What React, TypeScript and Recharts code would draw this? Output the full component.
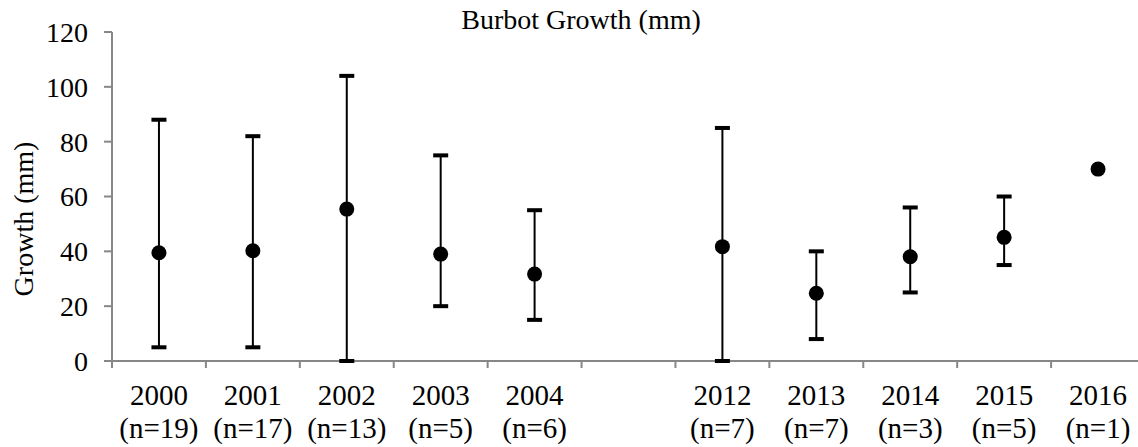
import React from 'react';
import { ComposedChart, Line, XAxis, YAxis, ErrorBar } from 'recharts';

const years = ['2000', '2001', '2002', '2003', '2004', '', '2012', '2013', '2014', '2015', '2016'];
const nCounts = ['19', '17', '13', '5', '6', '', '7', '7', '3', '5', '1'];
const means: (number | null)[] = [39.5, 40.2, 55.4, 39.0, 31.7, null, 41.7, 24.7, 38.0, 45.1, 70.0];
const highs: (number | null)[] = [88, 82, 104, 75, 55, null, 85, 40, 56, 60, null];
const lows: (number | null)[] = [5, 5, 0, 20, 15, null, 0, 8, 25, 35, null];
const yTicks = [0, 20, 40, 60, 80, 100, 120];
const boundaryTicks = [0, 1, 2, 3, 4, 5, 6, 7, 8, 9, 10];

const data = years.map((year, i) => {
  const m = means[i];
  const h = highs[i];
  const l = lows[i];
  return {
    key: year === '' ? 'gap' : year,
    year,
    n: nCounts[i],
    idx: i,
    mean: m,
    high: h,
    low: l,
    err: m != null && h != null && l != null ? [m - l, h - m] : undefined,
  };
});

const FONT = 'Liberation Serif';
const AXIS_GRAY = '#878787';
const textStyle = { fontFamily: FONT, fontSize: 28 };
const catStyle = { fontFamily: FONT, fontSize: 29 };

const CatTick = (props: any) => {
  const { x, y, payload } = props;
  const d = data.find((r) => r.key === payload.value);
  if (!d || d.year === '') return <g />;
  return (
    <g>
      <text x={x} y={y + 36} textAnchor="middle" fontFamily={FONT} fontSize={29} style={catStyle} fill="#000">
        {d.year}
      </text>
      <text x={x} y={y + 69} textAnchor="middle" fontFamily={FONT} fontSize={29} style={catStyle} fill="#000">
        {`(n=${d.n})`}
      </text>
    </g>
  );
};

const EmptyTick = () => <g />;

const CapDot = (props: any) => {
  const { cx, cy, value, index } = props;
  if (value == null || cx == null || cy == null || isNaN(cy)) return <g key={`c${index}`} />;
  return <rect key={`c${index}`} x={cx - 7.5} y={cy - 2} width={15} height={4} fill="#000" />;
};

const MeanDot = (props: any) => {
  const { cx, cy, value, index } = props;
  if (value == null || cx == null || cy == null || isNaN(cy)) return <g key={`m${index}`} />;
  return <circle key={`m${index}`} cx={cx} cy={cy} r={7.5} fill="#000" />;
};

export default function App() {
  return (
    <div style={{ width: 1138, height: 447, overflow: 'hidden', position: 'relative', background: '#fff' }}>
      <style>{`html,body{margin:0;padding:0;overflow:hidden;background:#fff;}`}</style>
      <ComposedChart
        width={1160}
        height={447}
        data={data}
        margin={{ top: 32, right: 15, bottom: 0, left: 42 }}
      >
        <text x={581} y={29} textAnchor="middle" fontFamily={FONT} fontSize={28} style={textStyle} fill="#000">
          Burbot Growth (mm)
        </text>
        <XAxis
          xAxisId="a_ticks"
          type="number"
          dataKey="idx"
          domain={[0, 11]}
          ticks={boundaryTicks}
          interval={0}
          allowDataOverflow
          tick={EmptyTick}
          tickSize={7}
          tickLine={{ stroke: AXIS_GRAY, strokeWidth: 2 }}
          axisLine={{ stroke: AXIS_GRAY, strokeWidth: 2 }}
          height={1}
        />
        <XAxis
          xAxisId="b_cat"
          dataKey="key"
          type="category"
          scale="band"
          interval={0}
          axisLine={false}
          tickLine={false}
          tickSize={7}
          tickMargin={0}
          tick={<CatTick />}
          height={85}
        />
        <YAxis
          domain={[0, 120]}
          ticks={yTicks}
          interval={0}
          width={70}
          tickSize={8}
          tickMargin={16}
          tick={{ fontFamily: FONT, fontSize: 28, fill: '#000', style: textStyle }}
          tickLine={{ stroke: AXIS_GRAY, strokeWidth: 2 }}
          axisLine={{ stroke: AXIS_GRAY, strokeWidth: 2 }}
          label={({ viewBox }: any) => (
            <text
              transform={`translate(${viewBox.x - 9}, 219) rotate(-90)`}
              textAnchor="middle"
              fontFamily={FONT}
              fontSize={28}
              style={textStyle}
              fill="#000"
            >
              Growth (mm)
            </text>
          )}
        />
        <Line
          xAxisId="b_cat"
          dataKey="high"
          stroke="none"
          dot={CapDot}
          activeDot={false}
          isAnimationActive={false}
        />
        <Line
          xAxisId="b_cat"
          dataKey="low"
          stroke="none"
          dot={CapDot}
          activeDot={false}
          isAnimationActive={false}
        />
        <Line
          xAxisId="b_cat"
          dataKey="mean"
          stroke="none"
          dot={MeanDot}
          activeDot={false}
          isAnimationActive={false}
        >
          <ErrorBar dataKey="err" width={0} strokeWidth={2} stroke="#000" direction="y" isAnimationActive={false} />
        </Line>
      </ComposedChart>
    </div>
  );
}
